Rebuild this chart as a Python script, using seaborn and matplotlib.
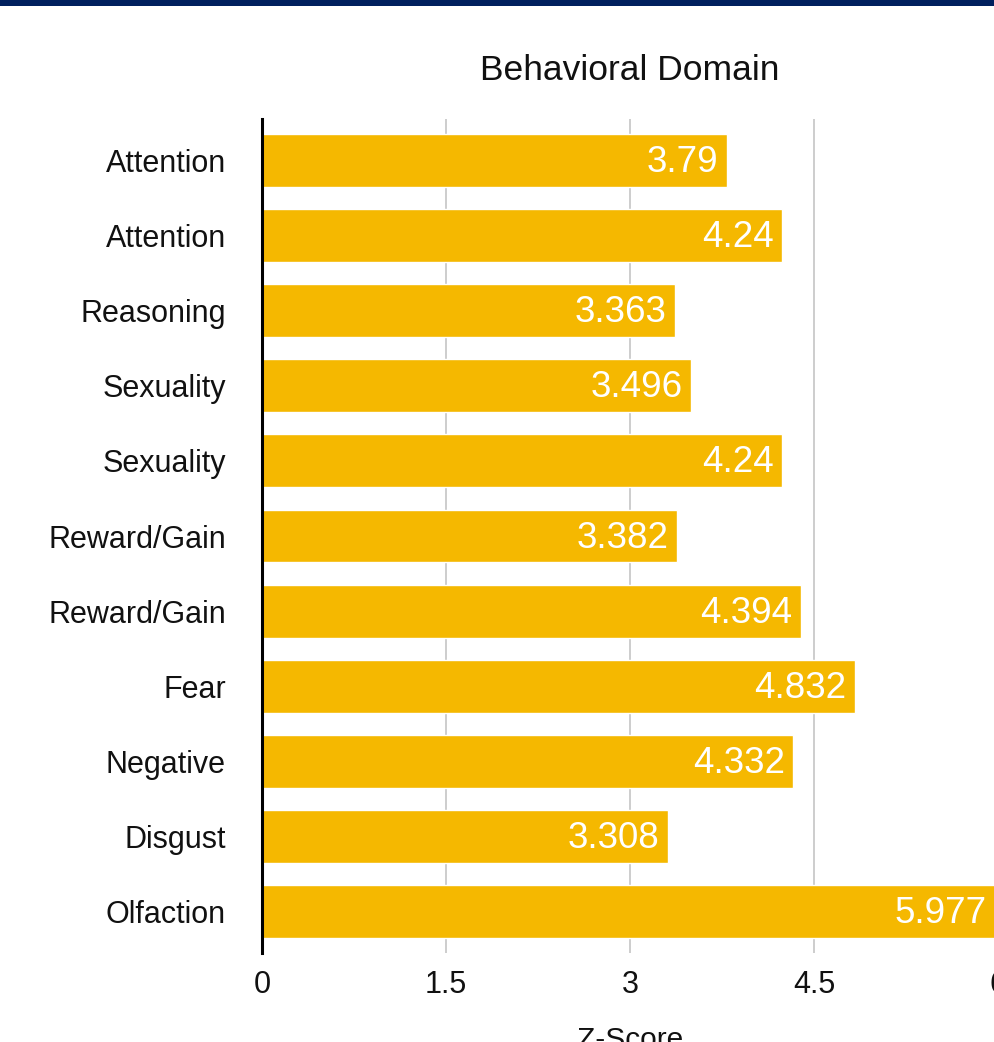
import matplotlib
matplotlib.use("Agg")
import matplotlib.pyplot as plt
from matplotlib.patches import Rectangle
import seaborn as sns
import pandas as pd

# Behavioral domains and their z-scores (top to bottom)
domains = ["Attention", "Attention", "Reasoning", "Sexuality", "Sexuality",
           "Reward/Gain", "Reward/Gain", "Fear", "Negative", "Disgust", "Olfaction"]
z_scores = [3.79, 4.24, 3.363, 3.496, 4.24, 3.382, 4.394, 4.832, 4.332, 3.308, 5.977]
x_ticks = [0, 1.5, 3, 4.5, 6]
x_tick_labels = ["0", "1.5", "3", "4.5", "6"]

BAR_COLOR = "#F5B800"
NAVY = "#00205E"

sns.set_theme(style="white")
plt.rcParams["font.family"] = ["Liberation Sans", "DejaVu Sans"]

W, H, DPI = 995, 1042, 100
fig = plt.figure(figsize=(W / DPI, H / DPI), dpi=DPI)
fig.patch.set_facecolor("white")

# axes box in pixel units (left, right, top, bottom); right edge runs past the canvas
left_px, right_px, top_px, bottom_px = 262, 998, 119, 953
ax = fig.add_axes([left_px / W, 1 - bottom_px / H,
                   (right_px - left_px) / W, (bottom_px - top_px) / H])

df = pd.DataFrame({"row": list(range(len(domains))), "z": z_scores})
sns.barplot(data=df, x="z", y="row", orient="h", color=BAR_COLOR,
            saturation=1, width=0.705, ax=ax, zorder=2)

ax.set_xlim(0, 6)
ax.set_ylim(len(domains) - 0.45, -0.55)
ax.set_xticks(x_ticks, x_tick_labels)
ax.set_yticks(range(len(domains)), domains)

# vertical grid lines behind the bars
for xv in x_ticks[1:]:
    ax.axvline(xv, color="#C9C9C9", lw=1.3, zorder=0)

for side in ["top", "right", "bottom"]:
    ax.spines[side].set_visible(False)
ax.spines["left"].set_color("black")
ax.spines["left"].set_linewidth(2.2)
ax.spines["left"].set_zorder(3)

ax.tick_params(axis="y", length=0, pad=26, labelsize=22, labelcolor="#111111")
ax.tick_params(axis="x", length=0, pad=12, labelsize=22, labelcolor="#111111")

# value labels inside the right end of each bar
for i, v in enumerate(z_scores):
    ax.annotate(f"{v:g}", xy=(v, i), xytext=(-6, -1.5), textcoords="offset points",
                ha="right", va="center", color="white", fontsize=26.5, zorder=4)

ax.set_title("Behavioral Domain", fontsize=25.5, pad=28, color="#111111")
ax.set_xlabel("Z-Score", fontsize=21.5, labelpad=19, color="#111111")
ax.set_ylabel("")

# dark band along the top edge
fig.patches.append(Rectangle((0, 1 - 6 / H), 1, 6 / H, transform=fig.transFigure,
                             facecolor=NAVY, edgecolor="none", zorder=10))

fig.savefig("out.png", dpi=DPI, facecolor="white")
